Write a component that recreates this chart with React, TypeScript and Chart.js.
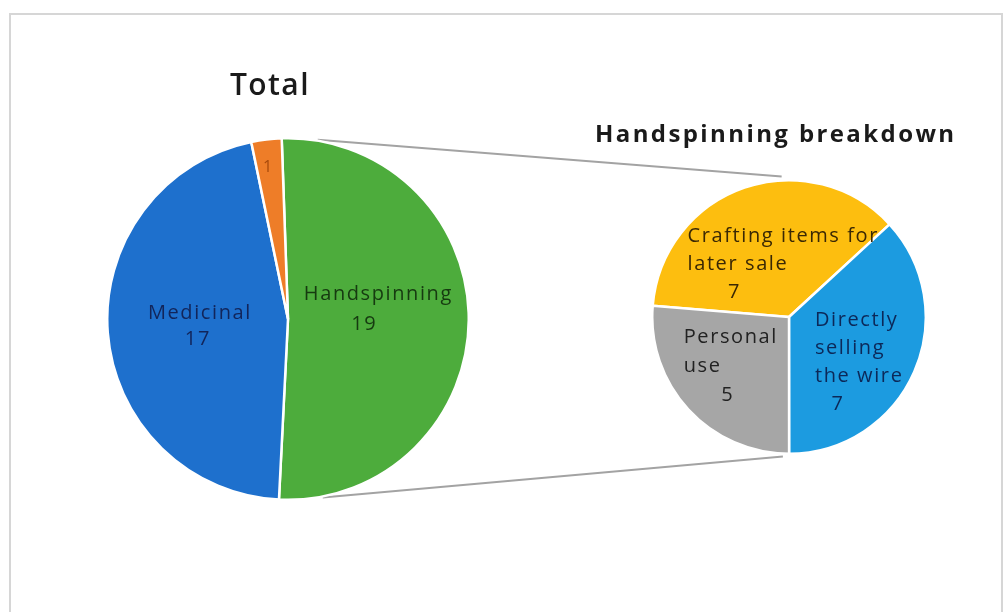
import React, { useEffect, useRef } from 'react';
import { Chart, registerables } from 'chart.js';

Chart.register(...registerables);

// ---------- data ----------
const totalTitle = 'Total';
const totalCategories = ['Handspinning', 'Medicinal', 'Other'];
const totalValues = [19, 17, 1];
const totalColors = ['#4DAC3C', '#1E70CD', '#EE7D28'];

const breakdownTitle = 'Handspinning breakdown';
const breakdownCategories = [
  ['Crafting items for', 'later sale'],
  ['Directly', 'selling', 'the wire'],
  ['Personal', 'use'],
];
const breakdownValues = [7, 7, 5];
const breakdownColors = ['#FDBE0F', '#1C9BE0', '#A6A6A6'];

// ---------- layout / style ----------
const LEFT_BOX = { left: 106, top: 137, size: 364 };
const RIGHT_BOX = { left: 651, top: 179, size: 276 };
const LABEL_FONT = '20px "Open Sans"';

const totalLabelCfg = [
  { frac: 0.5, align: 'center', dx: 0, dy: -25, vdx: -14, lh: 30, color: '#163A10', showName: true, font: LABEL_FONT, spacing: '1.6px' },
  { frac: 0.5, align: 'center', dx: 2, dy: -13, vdx: 0, lh: 26, color: '#12255A', showName: true, font: LABEL_FONT, spacing: '1.6px' },
  { frac: 0.85, align: 'center', dx: 0, dy: 1, vdx: -2, lh: 0, color: '#A84A0C', showName: false, font: '16px "Open Sans"', spacing: '0px' },
];
const breakdownLabelCfg = [
  { frac: 0.55, align: 'left', dx: -77, dy: -10, vdx: -30, lh: 28, color: '#3A2804', showName: true, font: LABEL_FONT, spacing: '1.6px' },
  { frac: 0.55, align: 'left', dx: -43, dy: -27, vdx: -20, lh: 28, color: '#0C2858', showName: true, font: LABEL_FONT, spacing: '1.6px' },
  { frac: 0.55, align: 'left', dx: -50, dy: -31, vdx: -6, lh: 29, color: '#222222', showName: true, font: LABEL_FONT, spacing: '1.6px' },
];

const sliceLabels = {
  id: 'sliceLabels',
  afterDatasetsDraw(chart: any, _args: any, opts: any) {
    const ctx = chart.ctx as CanvasRenderingContext2D;
    const meta = chart.getDatasetMeta(0);
    const labels = chart.data.labels;
    const values = chart.data.datasets[0].data;
    meta.data.forEach((arc: any, i: number) => {
      const cfg = opts.items[i];
      if (!cfg) return;
      const p = arc.getProps(['x', 'y', 'startAngle', 'endAngle', 'outerRadius'], true);
      const mid = (p.startAngle + p.endAngle) / 2;
      const r = p.outerRadius * cfg.frac;
      const ax = p.x + Math.cos(mid) * r;
      const ay = p.y + Math.sin(mid) * r;
      const lab = labels[i];
      const names: string[] = cfg.showName ? (Array.isArray(lab) ? lab : [lab]) : [];
      ctx.save();
      ctx.font = cfg.font;
      ctx.fillStyle = cfg.color;
      ctx.textBaseline = 'middle';
      (ctx as any).letterSpacing = cfg.spacing;
      names.forEach((t, k) => {
        ctx.textAlign = cfg.align;
        ctx.fillText(t, ax + cfg.dx, ay + cfg.dy + k * cfg.lh);
      });
      ctx.textAlign = 'center';
      ctx.fillText(String(values[i]), ax + cfg.vdx, ay + cfg.dy + names.length * cfg.lh);
      ctx.restore();
    });
  },
};

function makePie(canvas: HTMLCanvasElement, labels: any[], values: number[], colors: string[], rotation: number, items: any[]) {
  return new Chart(canvas, {
    type: 'pie',
    data: {
      labels,
      datasets: [
        {
          data: values,
          backgroundColor: colors,
          borderColor: '#ffffff',
          borderWidth: 2.5,
        },
      ],
    },
    options: {
      responsive: false,
      animation: false,
      rotation,
      layout: { padding: 0 },
      plugins: {
        legend: { display: false },
        title: { display: false },
        tooltip: { enabled: false },
        sliceLabels: { items },
      } as any,
    },
    plugins: [sliceLabels as any],
  });
}

export default function App() {
  const leftRef = useRef<HTMLCanvasElement>(null);
  const rightRef = useRef<HTMLCanvasElement>(null);
  const overlayRef = useRef<HTMLCanvasElement>(null);

  useEffect(() => {
    const left = makePie(leftRef.current!, totalCategories, totalValues, totalColors, -2, totalLabelCfg);
    const right = makePie(rightRef.current!, breakdownCategories, breakdownValues, breakdownColors, -85.3, breakdownLabelCfg);

    const ov = overlayRef.current!;
    const ctx = ov.getContext('2d')!;
    ctx.clearRect(0, 0, ov.width, ov.height);
    ctx.fillStyle = '#ffffff';
    ctx.fillRect(0, 0, ov.width, ov.height);

    // frame
    ctx.strokeStyle = '#D6D6D6';
    ctx.lineWidth = 2;
    ctx.strokeRect(10, 14, 992, 620);

    // titles
    ctx.fillStyle = '#1A1A1A';
    ctx.textBaseline = 'alphabetic';
    ctx.textAlign = 'left';
    ctx.font = '600 30px "Open Sans"';
    (ctx as any).letterSpacing = '1.4px';
    ctx.fillText(totalTitle, 230, 95);
    ctx.font = 'bold 24px "Open Sans"';
    (ctx as any).letterSpacing = '2.4px';
    ctx.fillText(breakdownTitle, 595, 142);
    (ctx as any).letterSpacing = '0px';

    // connector lines from the split slice to the secondary pie
    const la: any = left.getDatasetMeta(0).data[0];
    const ra: any = right.getDatasetMeta(0).data[0];
    const lcx = LEFT_BOX.left + la.x;
    const lcy = LEFT_BOX.top + la.y;
    const lr = la.outerRadius;
    const rcx = RIGHT_BOX.left + ra.x;
    const rcy = RIGHT_BOX.top + ra.y;
    const rr = ra.outerRadius;
    const deg = Math.PI / 180;
    const topStart = [lcx + Math.cos(-80.6 * deg) * (lr + 1), lcy + Math.sin(-80.6 * deg) * (lr + 1)];
    const botStart = [lcx + Math.cos(79 * deg) * (lr + 1), lcy + Math.sin(79 * deg) * (lr + 1)];
    const topEnd = [rcx + Math.cos(-93 * deg) * (rr + 4), rcy + Math.sin(-93 * deg) * (rr + 4)];
    const botEnd = [rcx + Math.cos(92.5 * deg) * (rr + 3), rcy + Math.sin(92.5 * deg) * (rr + 3)];
    ctx.strokeStyle = '#A3A3A3';
    ctx.lineWidth = 2;
    ctx.beginPath();
    ctx.moveTo(topStart[0], topStart[1]);
    ctx.lineTo(topEnd[0], topEnd[1]);
    ctx.moveTo(botStart[0], botStart[1]);
    ctx.lineTo(botEnd[0], botEnd[1]);
    ctx.stroke();

    return () => {
      left.destroy();
      right.destroy();
    };
  }, []);

  return (
    <div style={{ position: 'absolute', left: 0, top: 0, width: 1005, height: 612, overflow: 'hidden', background: '#fff' }}>
      <canvas ref={overlayRef} width={1005} height={612} style={{ position: 'absolute', left: 0, top: 0, zIndex: 0 }} />
      <canvas
        ref={leftRef}
        width={LEFT_BOX.size}
        height={LEFT_BOX.size}
        style={{ position: 'absolute', left: LEFT_BOX.left, top: LEFT_BOX.top, width: LEFT_BOX.size, height: LEFT_BOX.size, zIndex: 1 }}
      />
      <canvas
        ref={rightRef}
        width={RIGHT_BOX.size}
        height={RIGHT_BOX.size}
        style={{ position: 'absolute', left: RIGHT_BOX.left, top: RIGHT_BOX.top, width: RIGHT_BOX.size, height: RIGHT_BOX.size, zIndex: 1 }}
      />
    </div>
  );
}
